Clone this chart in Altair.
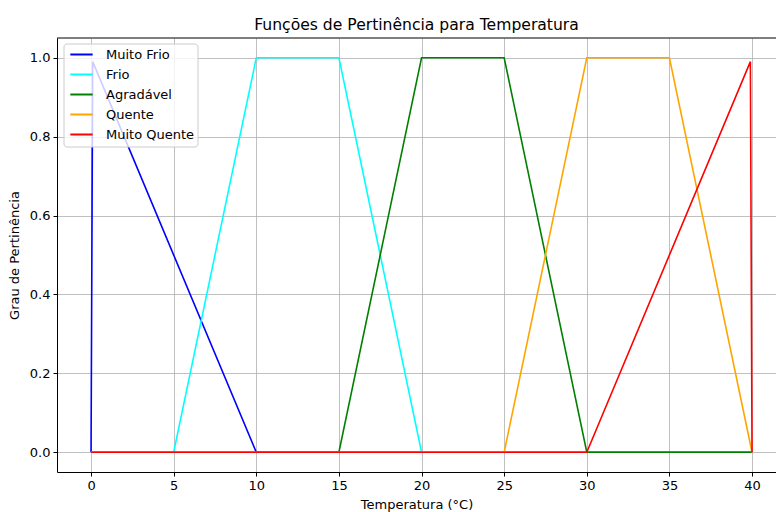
import altair as alt
import pandas as pd

series = ["Muito Frio", "Frio", "Agradável", "Quente", "Muito Quente"]
colors = ["#0000ff", "#00ffff", "#008000", "#ffa500", "#ff0000"]

x_muito_frio = [0, 0.1, 10, 40]
y_muito_frio = [0, 0.99, 0, 0]
x_frio = [0, 5, 10, 15, 20, 40]
y_frio = [0, 0, 1, 1, 0, 0]
x_agradavel = [0, 15, 20, 25, 30, 40]
y_agradavel = [0, 0, 1, 1, 0, 0]
x_quente = [0, 25, 30, 35, 40]
y_quente = [0, 0, 1, 1, 0]
x_muito_quente = [0, 30, 39.9, 40]
y_muito_quente = [0, 0, 0.99, 0]

xs = [x_muito_frio, x_frio, x_agradavel, x_quente, x_muito_quente]
ys = [y_muito_frio, y_frio, y_agradavel, y_quente, y_muito_quente]

rows = []
for s, (xl, yl) in enumerate(zip(xs, ys)):
    for i, (xv, yv) in enumerate(zip(xl, yl)):
        rows.append({"serie": series[s], "s": s, "i": i, "x": xv, "y": yv})
df = pd.DataFrame(rows)

W, H = 719, 434
FONT = "DejaVu Sans"

lines = alt.Chart(df).mark_line(strokeWidth=1.6, clip=True).encode(
    x=alt.X("x:Q", scale=alt.Scale(domain=[-2.06, 41.45], nice=False, zero=False),
            axis=alt.Axis(title="Temperatura (°C)", values=[0, 5, 10, 15, 20, 25, 30, 35, 40],
                          format="d", grid=True)),
    y=alt.Y("y:Q", scale=alt.Scale(domain=[-0.05, 1.05], nice=False),
            axis=alt.Axis(title="Grau de Pertinência", values=[0, 0.2, 0.4, 0.6, 0.8, 1.0],
                          format=".1f", grid=True)),
    color=alt.Color("serie:N", sort=series,
                    scale=alt.Scale(domain=series, range=colors),
                    legend=alt.Legend(title=None, orient="none", legendX=12, legendY=4,
                                      symbolType="stroke", symbolSize=500, symbolStrokeWidth=2,
                                      labelFontSize=13, labelFont=FONT, labelColor="#000",
                                      rowPadding=0, padding=0, labelOffset=12)),
    order=alt.Order("i:Q"),
    detail="s:N",
)

one = pd.DataFrame({"a": [0]})
legend_box = alt.Chart(one).mark_rect(
    fill="white", fillOpacity=0.8, stroke="#cccccc", strokeWidth=1, cornerRadius=3
).encode(x=alt.value(7), x2=alt.value(141), y=alt.value(6), y2=alt.value(109))

top = alt.Chart(one).mark_rule(color="black", strokeWidth=1).encode(
    x=alt.value(0), x2=alt.value(W + 10), y=alt.value(0)
)

chart = alt.layer(lines, legend_box, top).properties(
    width=W, height=H,
    title=alt.TitleParams("Funções de Pertinência para Temperatura", font=FONT, fontSize=15.6,
                          fontWeight="normal", color="#000", anchor="middle", offset=4),
    autosize=alt.AutoSizeParams(type="none"),
    padding={"left": 57, "top": 38, "right": 0, "bottom": 40},
).configure_view(stroke=None).configure_axis(
    gridColor="#b0b0b0", gridWidth=0.8, domainColor="#000", domainWidth=1,
    tickColor="#000", tickSize=4, tickWidth=1, labelFont=FONT, labelFontSize=13,
    labelColor="#000", titleFont=FONT, titleFontSize=13, titleFontWeight="normal",
    titleColor="#000", labelPadding=3
).configure_axisX(titlePadding=6).configure_axisY(titlePadding=8)

chart.save("out.html", embed_options={"renderer": "svg", "actions": False})
